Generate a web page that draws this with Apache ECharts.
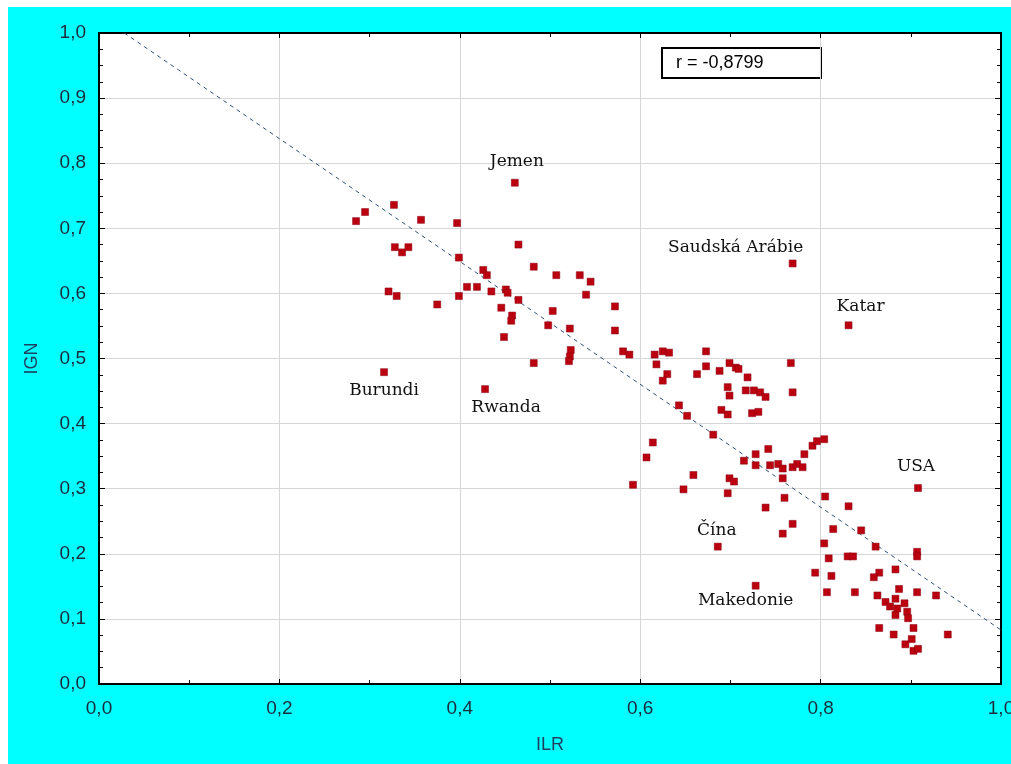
<!DOCTYPE html>
<html>
<head>
<meta charset="utf-8">
<script src="https://cdn.jsdelivr.net/npm/echarts@6/dist/echarts.min.js"></script>
<style>
html,body{margin:0;padding:0;background:#ffffff;width:1011px;height:764px;overflow:hidden;}
#chart{position:absolute;left:8px;top:7px;width:1003px;height:757px;background:#00ffff;}
</style>
</head>
<body>
<div id="chart"></div>
<script>
// ---- data ----
const ilr = [
0.327,0.295,0.285,0.357,0.397,0.465,0.328,0.336,0.343,0.399,0.482,0.426,0.430,0.507,0.533,0.545,0.408,0.419,0.451,0.435,0.453,0.321,0.330,0.399,0.465,0.540,0.375,0.446,0.503,0.458,0.457,0.498,0.522,0.449,0.523,0.522,0.521,0.482,
0.572,0.572,0.581,0.588,0.616,0.618,0.625,0.632,0.630,0.625,0.643,0.652,0.663,0.673,0.673,0.688,0.699,0.706,0.709,0.697,0.699,0.719,0.717,0.726,0.733,0.739,0.690,0.697,0.724,0.731,0.767,0.769,
0.681,0.614,0.607,0.592,0.659,0.648,0.699,0.704,0.697,0.715,0.728,0.728,0.742,0.744,0.753,0.758,0.758,0.769,0.774,0.780,0.782,0.791,0.796,0.804,0.760,0.739,0.769,0.758,0.805,0.814,0.804,0.809,0.794,0.812,0.807,
0.831,0.845,0.830,0.836,0.838,0.861,0.907,0.907,0.883,0.865,0.859,0.887,0.907,0.928,0.863,0.872,0.883,0.877,0.885,0.893,0.896,0.883,0.897,0.865,0.903,0.881,0.941,0.901,0.894,0.903,0.908
];
const ign = [
0.736,0.725,0.711,0.713,0.708,0.675,0.671,0.663,0.671,0.655,0.641,0.636,0.628,0.628,0.628,0.618,0.610,0.610,0.606,0.603,0.601,0.603,0.596,0.596,0.590,0.598,0.583,0.578,0.573,0.566,0.558,0.551,0.546,0.533,0.513,0.503,0.496,0.493,
0.580,0.543,0.511,0.506,0.506,0.491,0.511,0.509,0.476,0.466,0.428,0.412,0.476,0.511,0.488,0.481,0.493,0.486,0.484,0.456,0.443,0.471,0.451,0.451,0.448,0.441,0.421,0.414,0.416,0.418,0.493,0.448,
0.383,0.371,0.348,0.306,0.321,0.299,0.316,0.311,0.293,0.343,0.353,0.336,0.361,0.336,0.338,0.331,0.316,0.333,0.338,0.333,0.353,0.366,0.373,0.376,0.286,0.271,0.246,0.231,0.288,0.238,0.216,0.193,0.171,0.166,0.141,
0.273,0.236,0.196,0.196,0.141,0.211,0.203,0.196,0.176,0.171,0.164,0.146,0.141,0.136,0.136,0.126,0.131,0.119,0.116,0.124,0.111,0.106,0.101,0.086,0.086,0.076,0.076,0.069,0.061,0.051,0.054
];
const labelNames = ['Jemen','Saudská Arábie','Katar','Burundi','Rwanda','USA','Čína','Makedonie'];
const labelIlr = [0.461,0.769,0.831,0.316,0.428,0.908,0.686,0.728];
const labelIgn = [0.770,0.646,0.551,0.479,0.453,0.301,0.211,0.151];
const regX = [0.028,1.0];
const regY = [1.0,0.083];
const rText = 'r = -0,8799';

// ---- styles ----
const labelOffsets = [[2,-21],[-57,-16],[12,-19],[0,18],[21,18],[-2,-21],[-1,-16],[-10,15]];
const pointColor = '#bb0010';
const fmt = v => v.toFixed(1).replace('.', ',');

const chart = echarts.init(document.getElementById('chart'), null, {renderer:'canvas'});

const pts = ilr.map((x,i)=>[x, ign[i]]);
const lab = labelNames.map((n,i)=>({
  value:[labelIlr[i], labelIgn[i]], name:n,
  label:{show:true, position:'inside', offset:labelOffsets[i], formatter:n,
    fontFamily:'DejaVu Serif', fontSize:17, color:'#111'}
}));

const gridBox = {left:91, top:26, width:902, height:651};
const tickLabelStyle = {fontFamily:'Liberation Sans', fontSize:19, color:'#1c2c3c'};

chart.setOption({
  animation:false,
  backgroundColor:'#00ffff',
  grid:Object.assign({show:true, backgroundColor:'#ffffff', borderColor:'#000', borderWidth:0,
    containLabel:false, outerBoundsMode:'none'}, gridBox),
  xAxis:[{
    type:'value', min:0, max:1, interval:0.2, position:'bottom',
    name:'ILR', nameLocation:'middle', nameGap:52,
    nameTextStyle:{fontFamily:'Liberation Sans', fontSize:18, color:'#1f3f5f'},
    axisLine:{show:true, onZero:false, lineStyle:{color:'#000', width:2}},
    axisTick:{show:true, inside:true, length:5, lineStyle:{color:'#000'}},
    minorTick:{show:true, splitNumber:2, length:4, lineStyle:{color:'#000'}},
    axisLabel:Object.assign({margin:15, formatter:fmt, hideOverlap:false}, tickLabelStyle),
    splitLine:{show:true, lineStyle:{color:'#d6d6d6', width:1}}
  },{
    type:'value', min:0, max:1, interval:0.2, position:'top',
    axisLine:{show:true, onZero:false, lineStyle:{color:'#000', width:2}},
    axisTick:{show:true, inside:true, length:5, lineStyle:{color:'#000'}},
    minorTick:{show:true, splitNumber:2, length:4, lineStyle:{color:'#000'}},
    axisLabel:{show:false}, splitLine:{show:false}
  }],
  yAxis:[{
    type:'value', min:0, max:1, interval:0.1, position:'left',
    name:'IGN', nameLocation:'middle', nameGap:58, nameRotate:90,
    nameTextStyle:{fontFamily:'Liberation Sans', fontSize:18, color:'#1f3f5f'},
    axisLine:{show:true, onZero:false, lineStyle:{color:'#000', width:2}},
    axisTick:{show:true, inside:true, length:6, lineStyle:{color:'#000'}},
    minorTick:{show:true, splitNumber:4, length:4, lineStyle:{color:'#000'}},
    axisLabel:Object.assign({margin:13, formatter:fmt}, tickLabelStyle),
    splitLine:{show:true, lineStyle:{color:'#d6d6d6', width:1}}
  },{
    type:'value', min:0, max:1, interval:0.1, position:'right',
    axisLine:{show:true, onZero:false, lineStyle:{color:'#000', width:2}},
    axisTick:{show:true, inside:true, length:6, lineStyle:{color:'#000'}},
    minorTick:{show:true, splitNumber:4, length:4, lineStyle:{color:'#000'}},
    axisLabel:{show:false}, splitLine:{show:false}
  }],
  series:[{
    type:'line', data:regX.map((x,i)=>[x, regY[i]]), symbol:'none',
    lineStyle:{color:'#2f4f78', width:1, type:[4,4]}, z:2, silent:true
  },{
    type:'scatter', data:pts, symbol:'rect', symbolSize:7,
    itemStyle:{color:pointColor, borderColor:'#8a0010', borderWidth:0.5, opacity:1}, z:3
  },{
    type:'scatter', data:lab, symbol:'rect', symbolSize:7,
    itemStyle:{color:pointColor, borderColor:'#8a0010', borderWidth:0.5, opacity:1}, z:3
  }],
  graphic:[{
    type:'group', left:653, top:40, children:[
      {type:'rect', shape:{x:0,y:0,width:159,height:30}, style:{fill:'#fff', stroke:'#000', lineWidth:2}},
      {type:'text', x:14, y:6, style:{text:rText, fontFamily:'Liberation Sans', fontSize:18, fill:'#000'}}
    ]
  }]
});
</script>
</body>
</html>
